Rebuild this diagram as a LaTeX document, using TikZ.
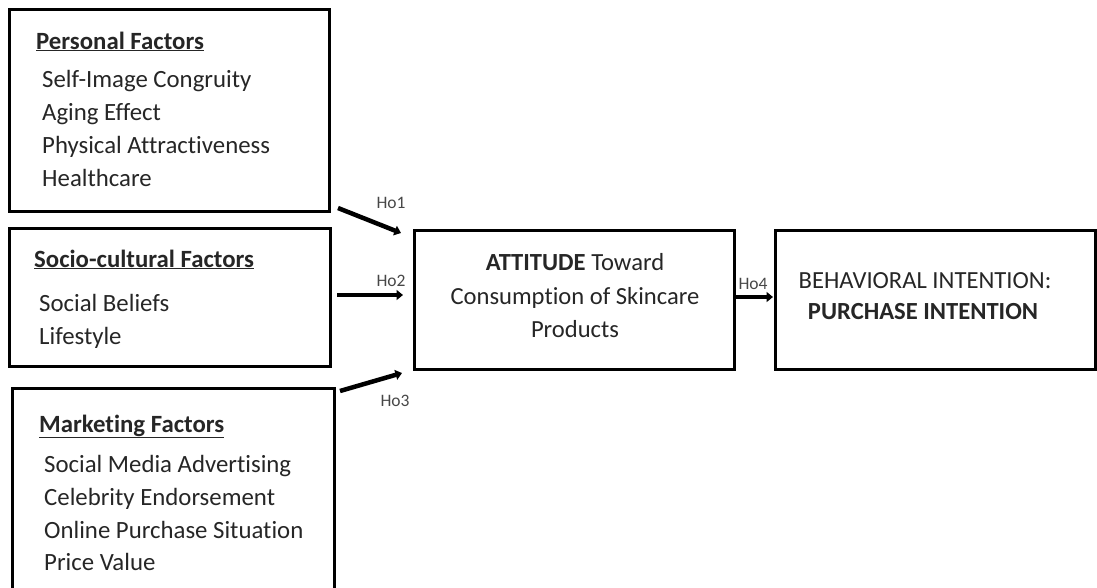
\documentclass[tikz,border=0pt]{standalone}
\usepackage{fontspec}
\setmainfont[Ligatures={NoCommon}]{Carlito}
\usetikzlibrary{arrows.meta}
\definecolor{txt}{HTML}{262626}
\begin{document}
\begin{tikzpicture}[x=1pt,y=-1pt,
  box/.style={draw=black,line width=2.6pt,inner sep=0pt,anchor=north west},
  item/.style={anchor=base west,inner sep=0pt,text=txt,font=\fontsize{24.8}{29}\selectfont},
  head/.style={item,font=\fontsize{24.8}{29}\selectfont\bfseries},
  ctr/.style={anchor=base,inner sep=0pt,text=txt,font=\fontsize{24.6}{29}\selectfont},
  hyp/.style={inner sep=0pt,text=txt!85,font=\fontsize{17.5}{20}\selectfont},
  conn/.style={line width=4.5pt,-{Triangle[length=6.5pt,width=10pt]}}]
\useasboundingbox (0,0) rectangle (1097,587);
\clip (0,0) rectangle (1097,587);
% boxes
\node[box,minimum width=320pt,minimum height=202pt] (pf) at (8,8) {};
\node[box,minimum width=321pt,minimum height=138pt] (sc) at (8,227) {};
\node[box,minimum width=322pt,minimum height=210pt] (mf) at (11,387) {};
\node[box,minimum width=320pt,minimum height=139pt] (att) at (413,229) {};
\node[box,minimum width=320pt,minimum height=139pt] (bi) at (774,229) {};
% personal factors
\node[head] (pfh) at (36,49) {\underline{Personal Factors}};
\node[item] (pf1) at (42,87) {Self-Image Congruity};
\node[item] (pf2) at (42,120) {Aging Effect};
\node[item] (pf3) at (42,153) {Physical Attractiveness};
\node[item] (pf4) at (42,186) {Healthcare};
% socio-cultural
\node[head] (sch) at (34,267) {\underline{Socio-cultural Factors}};
\node[item] (sc1) at (39,311) {Social Beliefs};
\node[item] (sc2) at (39,344) {Lifestyle};
% marketing
\node[head] (mfh) at (39,432) {\underline{Marketing Factors}};
\node[item] (mf1) at (44,472) {Social Media Advertising};
\node[item] (mf2) at (44,505) {Celebrity Endorsement};
\node[item] (mf3) at (44,538) {Online Purchase Situation};
\node[item] (mf4) at (44,570) {Price Value};
% attitude
\node[ctr] (at1) at (575,270) {\textbf{ATTITUDE} Toward};
\node[ctr] (at2) at (575,304) {Consumption of Skincare};
\node[ctr] (at3) at (575,337) {Products};
% behavioral
\node[ctr] (bi1) at (925,288) {BEHAVIORAL INTENTION:};
\node[ctr] (bi2) at (923,319) {\textbf{PURCHASE INTENTION}};
% arrows
\coordinate (h1s) at (338,208);
\coordinate (h1e) at (401,233);
\coordinate (h2s) at (337,295);
\coordinate (h2e) at (403,295);
\coordinate (h3s) at (340,391);
\coordinate (h3e) at (402,373);
\coordinate (h4s) at (733,297);
\coordinate (h4e) at (773,297);
\draw[conn] (h1s) -- (h1e);
\draw[conn] (h2s) -- (h2e);
\draw[conn] (h3s) -- (h3e);
\draw[conn] (h4s) -- (h4e);
\node[hyp] (l1) at (391,203) {Ho1};
\node[hyp] (l2) at (391,281) {Ho2};
\node[hyp] (l3) at (395,401) {Ho3};
\node[hyp] (l4) at (753,284) {Ho4};
\end{tikzpicture}
\end{document}
